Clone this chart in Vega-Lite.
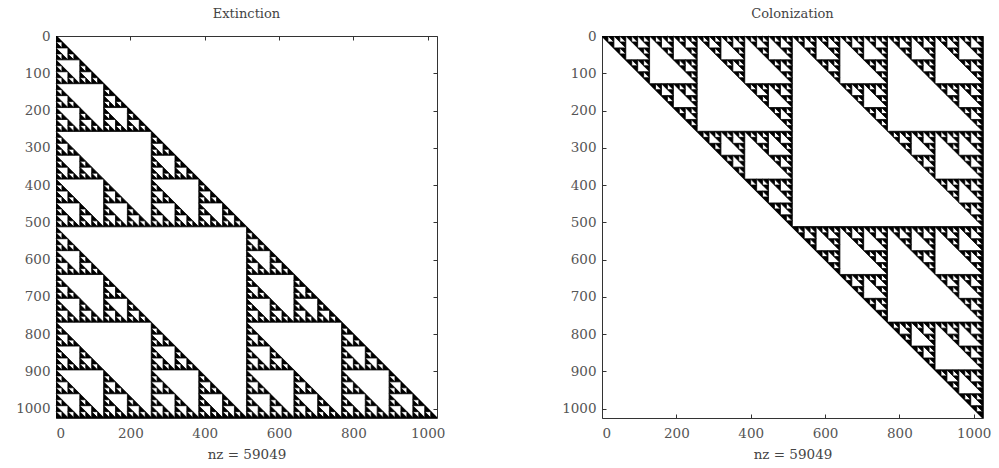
{
"$schema": "https://vega.github.io/schema/vega-lite/v6.json",
"background": "white",
"padding": {"left": 15, "top": 8, "right": 5, "bottom": 5},
"spacing": 116,
"config": {
  "font": "DejaVu Serif",
  "view": {"stroke": null},
  "axis": {"grid": false, "domainColor": "#333", "tickColor": "#333", "tickSize": -4, "labelFont": "DejaVu Serif", "labelFontSize": 13.5, "labelColor": "#555", "labelPadding": 10, "titleFont": "DejaVu Serif", "titleFontSize": 13.5, "titleFontWeight": "normal", "titleColor": "#444", "titlePadding": 8, "format": "d"},
  "axisX": {"labelPadding": 12},
  "title": {"font": "DejaVu Serif", "fontSize": 13, "fontWeight": "normal", "color": "#444", "anchor": "middle", "offset": 8}
},
"datasets": {
  "base": [{"x":0,"y":0,"v":1024},{"x":1024,"y":1024,"v":1024}],
  "holes": [
{"x":0,"y":512,"h":512},
{"x":0,"y":256,"h":256},{"x":0,"y":768,"h":256},{"x":512,"y":768,"h":256},
{"x":0,"y":128,"h":128},{"x":0,"y":384,"h":128},{"x":256,"y":384,"h":128},{"x":0,"y":640,"h":128},{"x":512,"y":640,"h":128},{"x":0,"y":896,"h":128},{"x":256,"y":896,"h":128},{"x":512,"y":896,"h":128},{"x":768,"y":896,"h":128},
{"x":0,"y":64,"h":64},
{"x":0,"y":192,"h":64},{"x":128,"y":192,"h":64},
{"x":0,"y":320,"h":64},{"x":256,"y":320,"h":64},
{"x":0,"y":448,"h":64},{"x":128,"y":448,"h":64},{"x":256,"y":448,"h":64},{"x":384,"y":448,"h":64},
{"x":0,"y":576,"h":64},{"x":512,"y":576,"h":64},
{"x":0,"y":704,"h":64},{"x":128,"y":704,"h":64},{"x":512,"y":704,"h":64},{"x":640,"y":704,"h":64},
{"x":0,"y":832,"h":64},{"x":256,"y":832,"h":64},{"x":512,"y":832,"h":64},{"x":768,"y":832,"h":64},
{"x":0,"y":960,"h":64},{"x":128,"y":960,"h":64},{"x":256,"y":960,"h":64},{"x":384,"y":960,"h":64},{"x":512,"y":960,"h":64},{"x":640,"y":960,"h":64},{"x":768,"y":960,"h":64},{"x":896,"y":960,"h":64},
{"x":0,"y":32,"h":32},
{"x":0,"y":96,"h":32},{"x":64,"y":96,"h":32},
{"x":0,"y":160,"h":32},{"x":128,"y":160,"h":32},
{"x":0,"y":224,"h":32},{"x":64,"y":224,"h":32},{"x":128,"y":224,"h":32},{"x":192,"y":224,"h":32},
{"x":0,"y":288,"h":32},{"x":256,"y":288,"h":32},
{"x":0,"y":352,"h":32},{"x":64,"y":352,"h":32},{"x":256,"y":352,"h":32},{"x":320,"y":352,"h":32},
{"x":0,"y":416,"h":32},{"x":128,"y":416,"h":32},{"x":256,"y":416,"h":32},{"x":384,"y":416,"h":32},
{"x":0,"y":480,"h":32},{"x":64,"y":480,"h":32},{"x":128,"y":480,"h":32},{"x":192,"y":480,"h":32},{"x":256,"y":480,"h":32},{"x":320,"y":480,"h":32},{"x":384,"y":480,"h":32},{"x":448,"y":480,"h":32},
{"x":0,"y":544,"h":32},{"x":512,"y":544,"h":32},
{"x":0,"y":608,"h":32},{"x":64,"y":608,"h":32},{"x":512,"y":608,"h":32},{"x":576,"y":608,"h":32},
{"x":0,"y":672,"h":32},{"x":128,"y":672,"h":32},{"x":512,"y":672,"h":32},{"x":640,"y":672,"h":32},
{"x":0,"y":736,"h":32},{"x":64,"y":736,"h":32},{"x":128,"y":736,"h":32},{"x":192,"y":736,"h":32},{"x":512,"y":736,"h":32},{"x":576,"y":736,"h":32},{"x":640,"y":736,"h":32},{"x":704,"y":736,"h":32},
{"x":0,"y":800,"h":32},{"x":256,"y":800,"h":32},{"x":512,"y":800,"h":32},{"x":768,"y":800,"h":32},
{"x":0,"y":864,"h":32},{"x":64,"y":864,"h":32},{"x":256,"y":864,"h":32},{"x":320,"y":864,"h":32},{"x":512,"y":864,"h":32},{"x":576,"y":864,"h":32},{"x":768,"y":864,"h":32},{"x":832,"y":864,"h":32},
{"x":0,"y":928,"h":32},{"x":128,"y":928,"h":32},{"x":256,"y":928,"h":32},{"x":384,"y":928,"h":32},{"x":512,"y":928,"h":32},{"x":640,"y":928,"h":32},{"x":768,"y":928,"h":32},{"x":896,"y":928,"h":32},
{"x":0,"y":992,"h":32},{"x":64,"y":992,"h":32},{"x":128,"y":992,"h":32},{"x":192,"y":992,"h":32},{"x":256,"y":992,"h":32},{"x":320,"y":992,"h":32},{"x":384,"y":992,"h":32},{"x":448,"y":992,"h":32},{"x":512,"y":992,"h":32},{"x":576,"y":992,"h":32},{"x":640,"y":992,"h":32},{"x":704,"y":992,"h":32},{"x":768,"y":992,"h":32},{"x":832,"y":992,"h":32},{"x":896,"y":992,"h":32},{"x":960,"y":992,"h":32},
{"x":0,"y":16,"h":16},
{"x":0,"y":48,"h":16},{"x":32,"y":48,"h":16},
{"x":0,"y":80,"h":16},{"x":64,"y":80,"h":16},
{"x":0,"y":112,"h":16},{"x":32,"y":112,"h":16},{"x":64,"y":112,"h":16},{"x":96,"y":112,"h":16},
{"x":0,"y":144,"h":16},{"x":128,"y":144,"h":16},
{"x":0,"y":176,"h":16},{"x":32,"y":176,"h":16},{"x":128,"y":176,"h":16},{"x":160,"y":176,"h":16},
{"x":0,"y":208,"h":16},{"x":64,"y":208,"h":16},{"x":128,"y":208,"h":16},{"x":192,"y":208,"h":16},
{"x":0,"y":240,"h":16},{"x":32,"y":240,"h":16},{"x":64,"y":240,"h":16},{"x":96,"y":240,"h":16},{"x":128,"y":240,"h":16},{"x":160,"y":240,"h":16},{"x":192,"y":240,"h":16},{"x":224,"y":240,"h":16},
{"x":0,"y":272,"h":16},{"x":256,"y":272,"h":16},
{"x":0,"y":304,"h":16},{"x":32,"y":304,"h":16},{"x":256,"y":304,"h":16},{"x":288,"y":304,"h":16},
{"x":0,"y":336,"h":16},{"x":64,"y":336,"h":16},{"x":256,"y":336,"h":16},{"x":320,"y":336,"h":16},
{"x":0,"y":368,"h":16},{"x":32,"y":368,"h":16},{"x":64,"y":368,"h":16},{"x":96,"y":368,"h":16},{"x":256,"y":368,"h":16},{"x":288,"y":368,"h":16},{"x":320,"y":368,"h":16},{"x":352,"y":368,"h":16},
{"x":0,"y":400,"h":16},{"x":128,"y":400,"h":16},{"x":256,"y":400,"h":16},{"x":384,"y":400,"h":16},
{"x":0,"y":432,"h":16},{"x":32,"y":432,"h":16},{"x":128,"y":432,"h":16},{"x":160,"y":432,"h":16},{"x":256,"y":432,"h":16},{"x":288,"y":432,"h":16},{"x":384,"y":432,"h":16},{"x":416,"y":432,"h":16},
{"x":0,"y":464,"h":16},{"x":64,"y":464,"h":16},{"x":128,"y":464,"h":16},{"x":192,"y":464,"h":16},{"x":256,"y":464,"h":16},{"x":320,"y":464,"h":16},{"x":384,"y":464,"h":16},{"x":448,"y":464,"h":16},
{"x":0,"y":496,"h":16},{"x":32,"y":496,"h":16},{"x":64,"y":496,"h":16},{"x":96,"y":496,"h":16},{"x":128,"y":496,"h":16},{"x":160,"y":496,"h":16},{"x":192,"y":496,"h":16},{"x":224,"y":496,"h":16},{"x":256,"y":496,"h":16},{"x":288,"y":496,"h":16},{"x":320,"y":496,"h":16},{"x":352,"y":496,"h":16},{"x":384,"y":496,"h":16},{"x":416,"y":496,"h":16},{"x":448,"y":496,"h":16},{"x":480,"y":496,"h":16},
{"x":0,"y":528,"h":16},{"x":512,"y":528,"h":16},
{"x":0,"y":560,"h":16},{"x":32,"y":560,"h":16},{"x":512,"y":560,"h":16},{"x":544,"y":560,"h":16},
{"x":0,"y":592,"h":16},{"x":64,"y":592,"h":16},{"x":512,"y":592,"h":16},{"x":576,"y":592,"h":16},
{"x":0,"y":624,"h":16},{"x":32,"y":624,"h":16},{"x":64,"y":624,"h":16},{"x":96,"y":624,"h":16},{"x":512,"y":624,"h":16},{"x":544,"y":624,"h":16},{"x":576,"y":624,"h":16},{"x":608,"y":624,"h":16},
{"x":0,"y":656,"h":16},{"x":128,"y":656,"h":16},{"x":512,"y":656,"h":16},{"x":640,"y":656,"h":16},
{"x":0,"y":688,"h":16},{"x":32,"y":688,"h":16},{"x":128,"y":688,"h":16},{"x":160,"y":688,"h":16},{"x":512,"y":688,"h":16},{"x":544,"y":688,"h":16},{"x":640,"y":688,"h":16},{"x":672,"y":688,"h":16},
{"x":0,"y":720,"h":16},{"x":64,"y":720,"h":16},{"x":128,"y":720,"h":16},{"x":192,"y":720,"h":16},{"x":512,"y":720,"h":16},{"x":576,"y":720,"h":16},{"x":640,"y":720,"h":16},{"x":704,"y":720,"h":16},
{"x":0,"y":752,"h":16},{"x":32,"y":752,"h":16},{"x":64,"y":752,"h":16},{"x":96,"y":752,"h":16},{"x":128,"y":752,"h":16},{"x":160,"y":752,"h":16},{"x":192,"y":752,"h":16},{"x":224,"y":752,"h":16},{"x":512,"y":752,"h":16},{"x":544,"y":752,"h":16},{"x":576,"y":752,"h":16},{"x":608,"y":752,"h":16},{"x":640,"y":752,"h":16},{"x":672,"y":752,"h":16},{"x":704,"y":752,"h":16},{"x":736,"y":752,"h":16},
{"x":0,"y":784,"h":16},{"x":256,"y":784,"h":16},{"x":512,"y":784,"h":16},{"x":768,"y":784,"h":16},
{"x":0,"y":816,"h":16},{"x":32,"y":816,"h":16},{"x":256,"y":816,"h":16},{"x":288,"y":816,"h":16},{"x":512,"y":816,"h":16},{"x":544,"y":816,"h":16},{"x":768,"y":816,"h":16},{"x":800,"y":816,"h":16},
{"x":0,"y":848,"h":16},{"x":64,"y":848,"h":16},{"x":256,"y":848,"h":16},{"x":320,"y":848,"h":16},{"x":512,"y":848,"h":16},{"x":576,"y":848,"h":16},{"x":768,"y":848,"h":16},{"x":832,"y":848,"h":16},
{"x":0,"y":880,"h":16},{"x":32,"y":880,"h":16},{"x":64,"y":880,"h":16},{"x":96,"y":880,"h":16},{"x":256,"y":880,"h":16},{"x":288,"y":880,"h":16},{"x":320,"y":880,"h":16},{"x":352,"y":880,"h":16},{"x":512,"y":880,"h":16},{"x":544,"y":880,"h":16},{"x":576,"y":880,"h":16},{"x":608,"y":880,"h":16},{"x":768,"y":880,"h":16},{"x":800,"y":880,"h":16},{"x":832,"y":880,"h":16},{"x":864,"y":880,"h":16},
{"x":0,"y":912,"h":16},{"x":128,"y":912,"h":16},{"x":256,"y":912,"h":16},{"x":384,"y":912,"h":16},{"x":512,"y":912,"h":16},{"x":640,"y":912,"h":16},{"x":768,"y":912,"h":16},{"x":896,"y":912,"h":16},
{"x":0,"y":944,"h":16},{"x":32,"y":944,"h":16},{"x":128,"y":944,"h":16},{"x":160,"y":944,"h":16},{"x":256,"y":944,"h":16},{"x":288,"y":944,"h":16},{"x":384,"y":944,"h":16},{"x":416,"y":944,"h":16},{"x":512,"y":944,"h":16},{"x":544,"y":944,"h":16},{"x":640,"y":944,"h":16},{"x":672,"y":944,"h":16},{"x":768,"y":944,"h":16},{"x":800,"y":944,"h":16},{"x":896,"y":944,"h":16},{"x":928,"y":944,"h":16},
{"x":0,"y":976,"h":16},{"x":64,"y":976,"h":16},{"x":128,"y":976,"h":16},{"x":192,"y":976,"h":16},{"x":256,"y":976,"h":16},{"x":320,"y":976,"h":16},{"x":384,"y":976,"h":16},{"x":448,"y":976,"h":16},{"x":512,"y":976,"h":16},{"x":576,"y":976,"h":16},{"x":640,"y":976,"h":16},{"x":704,"y":976,"h":16},{"x":768,"y":976,"h":16},{"x":832,"y":976,"h":16},{"x":896,"y":976,"h":16},{"x":960,"y":976,"h":16},
{"x":0,"y":1008,"h":16},{"x":32,"y":1008,"h":16},{"x":64,"y":1008,"h":16},{"x":96,"y":1008,"h":16},{"x":128,"y":1008,"h":16},{"x":160,"y":1008,"h":16},{"x":192,"y":1008,"h":16},{"x":224,"y":1008,"h":16},{"x":256,"y":1008,"h":16},{"x":288,"y":1008,"h":16},{"x":320,"y":1008,"h":16},{"x":352,"y":1008,"h":16},{"x":384,"y":1008,"h":16},{"x":416,"y":1008,"h":16},{"x":448,"y":1008,"h":16},{"x":480,"y":1008,"h":16},{"x":512,"y":1008,"h":16},{"x":544,"y":1008,"h":16},{"x":576,"y":1008,"h":16},{"x":608,"y":1008,"h":16},{"x":640,"y":1008,"h":16},{"x":672,"y":1008,"h":16},{"x":704,"y":1008,"h":16},{"x":736,"y":1008,"h":16},{"x":768,"y":1008,"h":16},{"x":800,"y":1008,"h":16},{"x":832,"y":1008,"h":16},{"x":864,"y":1008,"h":16},{"x":896,"y":1008,"h":16},{"x":928,"y":1008,"h":16},{"x":960,"y":1008,"h":16},{"x":992,"y":1008,"h":16}
  ]
},
"hconcat": [
  {
    "title": "Extinction",
    "width": 381, "height": 382,
    "layer": [
      {
        "data": {"name": "base"},
        "mark": {"type": "area", "color": "black", "stroke": "black", "strokeWidth": 1.5, "clip": true},
        "encoding": {
          "x": {"field": "x", "type": "quantitative", "scale": {"domain": [0, 1025], "nice": false, "zero": false}, "axis": {"orient": "bottom", "values": [0,200,400,600,800,1000], "title": "nz = 59049"}},
          "y": {"field": "y", "type": "quantitative", "scale": {"domain": [0, 1025], "nice": false, "zero": false, "reverse": true}, "axis": {"orient": "left", "values": [0,100,200,300,400,500,600,700,800,900,1000], "title": null}},
          "y2": {"field": "v"}
        }
      },
      {
        "data": {"name": "holes"},
        "mark": {"type": "point", "shape": "M0,0L2,0L2,2Z", "filled": true, "fill": "white", "opacity": 1, "stroke": "black", "strokeWidth": 0.8},
        "encoding": {
          "x": {"field": "x", "type": "quantitative", "scale": {"domain": [0, 1025], "nice": false, "zero": false}, "axis": {"orient": "top", "values": [0,200,400,600,800,1000], "labels": false, "title": null}},
          "y": {"field": "y", "type": "quantitative", "scale": {"domain": [0, 1025], "nice": false, "zero": false, "reverse": true}, "axis": {"orient": "right", "values": [0,100,200,300,400,500,600,700,800,900,1000], "labels": false, "title": null}},
          "size": {"field": "h", "type": "quantitative", "scale": {"type": "pow", "exponent": 2, "domain": [0, 512], "range": [0, 36314]}, "legend": null}
        }
      }
    ]
  },
  {
    "title": "Colonization",
    "width": 381, "height": 382,
    "layer": [
      {
        "data": {"name": "base"},
        "mark": {"type": "area", "orient": "horizontal", "color": "black", "stroke": "black", "strokeWidth": 1.5, "clip": true},
        "encoding": {
          "y": {"field": "x", "type": "quantitative", "scale": {"domain": [0, 1025], "nice": false, "zero": false, "reverse": true}, "axis": {"orient": "left", "values": [0,100,200,300,400,500,600,700,800,900,1000], "title": null}},
          "x": {"field": "y", "type": "quantitative", "scale": {"domain": [0, 1025], "nice": false, "zero": false}, "axis": {"orient": "bottom", "values": [0,200,400,600,800,1000], "title": "nz = 59049"}},
          "x2": {"field": "v"}
        }
      },
      {
        "data": {"name": "holes"},
        "mark": {"type": "point", "shape": "M0,0L0,2L2,2Z", "filled": true, "fill": "white", "opacity": 1, "stroke": "black", "strokeWidth": 0.8},
        "encoding": {
          "x": {"field": "y", "type": "quantitative", "scale": {"domain": [0, 1025], "nice": false, "zero": false}, "axis": {"orient": "top", "values": [0,200,400,600,800,1000], "labels": false, "title": null}},
          "y": {"field": "x", "type": "quantitative", "scale": {"domain": [0, 1025], "nice": false, "zero": false, "reverse": true}, "axis": {"orient": "right", "values": [0,100,200,300,400,500,600,700,800,900,1000], "labels": false, "title": null}},
          "size": {"field": "h", "type": "quantitative", "scale": {"type": "pow", "exponent": 2, "domain": [0, 512], "range": [0, 36314]}, "legend": null}
        }
      }
    ]
  }
]
}
